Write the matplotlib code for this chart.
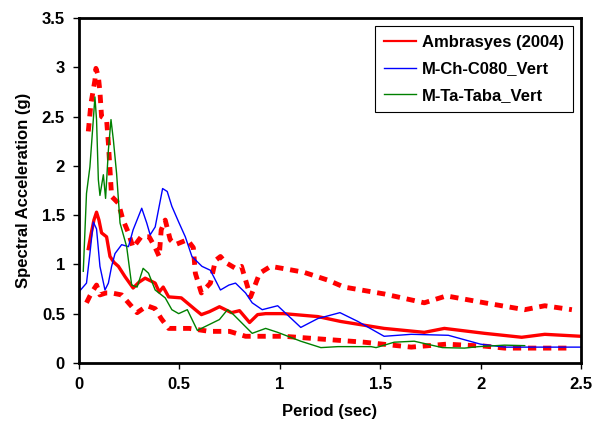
import numpy as np
import matplotlib
matplotlib.use("Agg")
import matplotlib.pyplot as plt

plt.rcParams['font.family'] = ['Liberation Sans', 'DejaVu Sans']
plt.rcParams['font.weight'] = 'bold'

# Ambrasyes (2004) mean spectrum
amb_x = [0.047, 0.06, 0.075, 0.088, 0.10, 0.113, 0.138, 0.155, 0.175, 0.197, 0.23, 0.27,
         0.30, 0.33, 0.38, 0.40, 0.42, 0.447, 0.51, 0.58, 0.61, 0.65, 0.70, 0.76, 0.80,
         0.85, 0.89, 0.93, 1.02, 1.19, 1.305, 1.52, 1.72, 1.82, 2.02, 2.205, 2.32, 2.5]
amb_y = [1.16, 1.30, 1.45, 1.53, 1.45, 1.32, 1.28, 1.08, 1.02, 0.98, 0.875, 0.76,
         0.82, 0.86, 0.81, 0.72, 0.77, 0.67, 0.66, 0.54, 0.49, 0.52, 0.57, 0.51, 0.53,
         0.41, 0.49, 0.50, 0.50, 0.47, 0.42, 0.35, 0.31, 0.35, 0.30, 0.26, 0.29, 0.27]

# mean + std
up_x = [0.047, 0.06, 0.08, 0.085, 0.097, 0.105, 0.113, 0.138, 0.147, 0.163, 0.197, 0.22,
        0.247, 0.27, 0.31, 0.35, 0.38, 0.40, 0.41, 0.43, 0.455, 0.48, 0.54, 0.57, 0.58,
        0.61, 0.655, 0.68, 0.705, 0.73, 0.78, 0.81, 0.855, 0.90, 0.955, 1.04, 1.12, 1.24,
        1.32, 1.52, 1.72, 1.83, 2.02, 2.22, 2.32, 2.455]
up_y = [2.35, 2.63, 2.87, 2.99, 2.91, 2.75, 2.50, 2.47, 2.23, 1.69, 1.62, 1.45,
        1.32, 1.17, 1.28, 1.28, 1.17, 1.08, 1.35, 1.45, 1.25, 1.20, 1.25, 1.17, 0.91,
        0.71, 0.81, 1.04, 1.08, 1.02, 0.96, 0.98, 0.67, 0.91, 0.98, 0.95, 0.92, 0.84,
        0.77, 0.70, 0.61, 0.68, 0.61, 0.54, 0.58, 0.54]

# mean - std
lo_x = [0.038, 0.055, 0.072, 0.088, 0.105, 0.135, 0.163, 0.213, 0.247, 0.29, 0.34, 0.38,
        0.41, 0.447, 0.55, 0.65, 0.75, 0.83, 0.98, 1.02, 1.22, 1.42, 1.655, 1.83, 2.02,
        2.12, 2.44]
lo_y = [0.61, 0.68, 0.74, 0.79, 0.69, 0.71, 0.71, 0.69, 0.61, 0.51, 0.58, 0.55,
        0.45, 0.35, 0.35, 0.32, 0.32, 0.27, 0.27, 0.27, 0.24, 0.21, 0.16, 0.19, 0.17,
        0.15, 0.15]

# M-Ch-C080_Vert
ch_x = [0.0, 0.038, 0.055, 0.072, 0.088, 0.105, 0.13, 0.147, 0.163, 0.18, 0.213, 0.247,
        0.27, 0.313, 0.338, 0.355, 0.38, 0.417, 0.44, 0.463, 0.497, 0.53, 0.563, 0.613,
        0.655, 0.68, 0.705, 0.747, 0.78, 0.83, 0.863, 0.913, 0.99, 1.105, 1.19, 1.30,
        1.39, 1.52, 1.655, 1.84, 2.0, 2.12, 2.5]
ch_y = [0.72, 0.81, 1.11, 1.43, 1.36, 0.98, 0.74, 0.81, 0.98, 1.11, 1.20, 1.18,
        1.35, 1.57, 1.42, 1.30, 1.38, 1.77, 1.74, 1.59, 1.43, 1.28, 1.08, 0.98,
        0.94, 0.84, 0.74, 0.79, 0.81, 0.71, 0.61, 0.54, 0.58, 0.36, 0.45, 0.51,
        0.42, 0.27, 0.29, 0.28, 0.19, 0.16, 0.16]

# M-Ta-Taba_Vert
ta_x = [0.022, 0.038, 0.055, 0.067, 0.08, 0.088, 0.097, 0.105, 0.122, 0.133, 0.147, 0.16,
        0.172, 0.188, 0.205, 0.238, 0.263, 0.29, 0.32, 0.347, 0.38, 0.43, 0.463, 0.497,
        0.54, 0.59, 0.70, 0.74, 0.77, 0.863, 0.93, 0.99, 1.105, 1.205, 1.29, 1.455,
        1.48, 1.57, 1.67, 1.81, 1.92, 1.99, 2.12, 2.22]
ta_y = [0.93, 1.72, 1.99, 2.33, 2.70, 2.47, 1.86, 1.70, 1.91, 1.67, 2.16, 2.47,
        2.26, 1.92, 1.42, 1.18, 0.79, 0.77, 0.96, 0.91, 0.74, 0.66, 0.54, 0.50,
        0.54, 0.33, 0.44, 0.54, 0.49, 0.30, 0.35, 0.31, 0.22, 0.155, 0.165, 0.165,
        0.155, 0.21, 0.22, 0.155, 0.15, 0.165, 0.18, 0.175]

fig = plt.figure(figsize=(6.02, 4.32), dpi=100)
ax = fig.add_axes([0.131, 0.160, 0.834, 0.798])

ax.plot(up_x, up_y, color="red", lw=3.5, dashes=(1.7, 1.4), dash_capstyle="butt")
ax.plot(lo_x, lo_y, color="red", lw=3.5, dashes=(1.7, 1.4), dash_capstyle="butt")
ax.plot(amb_x, amb_y, color="red", lw=2.4, label="Ambrasyes (2004)")
ax.plot(ch_x, ch_y, color="blue", lw=1.0, label="M-Ch-C080_Vert")
ax.plot(ta_x, ta_y, color="green", lw=1.0, label="M-Ta-Taba_Vert")

ax.set_xlim(0, 2.5)
ax.set_ylim(0, 3.5)
ax.set_xticks(np.arange(0, 2.51, 0.5))
ax.set_yticks(np.arange(0, 3.51, 0.5))
ax.set_xticklabels(["0", "0.5", "1", "1.5", "2", "2.5"])
ax.set_yticklabels(["0", "0.5", "1", "1.5", "2", "2.5", "3", "3.5"])
ax.tick_params(labelsize=12, length=4, width=1, pad=6)
for s in ax.spines.values():
    s.set_linewidth(2)

ax.set_xlabel("Period (sec)", fontsize=12, fontweight="bold", labelpad=9)
ax.set_ylabel("Spectral Acceleration (g)", fontsize=12, fontweight="bold", labelpad=8)

leg = ax.legend(loc="upper right", fontsize=12, fancybox=False, framealpha=1,
                edgecolor="black", borderaxespad=0.45, borderpad=0.55, handlelength=1.9,
                labelspacing=0.7, handletextpad=0.4)
leg.get_frame().set_linewidth(0.8)
for h in leg.get_lines():
    h.set_linewidth(1.6 if h.get_color() == "red" else 1.0)

fig.savefig("out.png", dpi=100)
